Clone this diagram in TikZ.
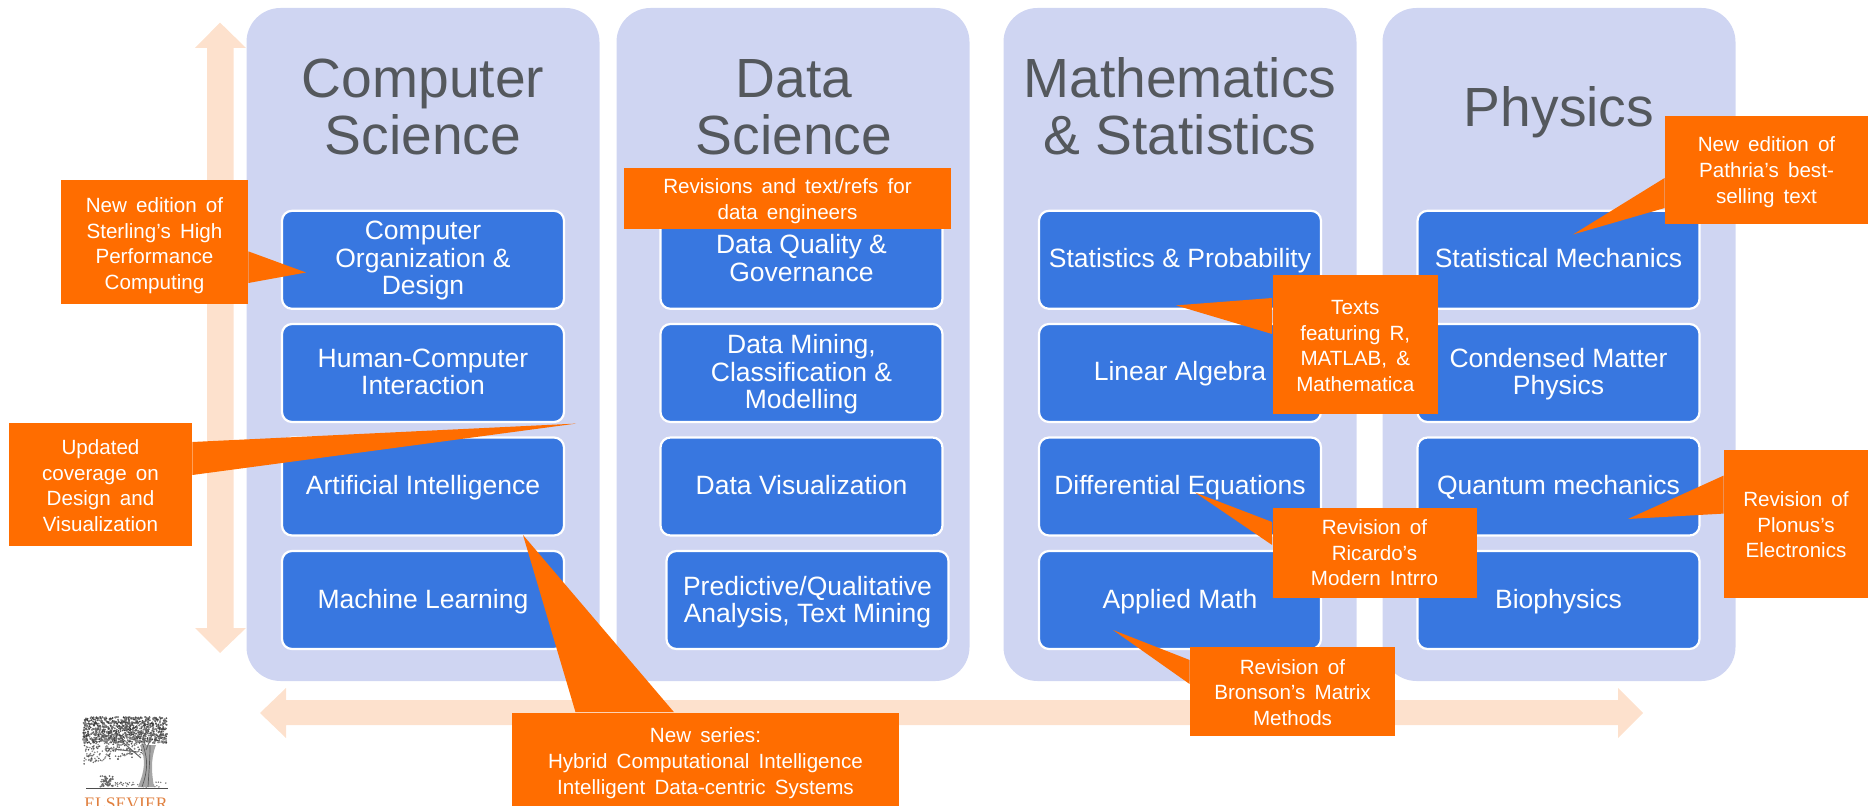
\documentclass[tikz,border=0pt]{standalone}
\usepackage{fontspec}
\setmainfont{Liberation Sans}
\newfontfamily\callfont[WordSpace=1.6]{Liberation Sans}
\newfontfamily\logofont{Liberation Serif}
\definecolor{colbg}{HTML}{CFD5F2}
\definecolor{boxbg}{HTML}{3877E0}
\definecolor{callc}{HTML}{FF6D00}
\definecolor{arrowc}{HTML}{FDE1CD}
\definecolor{titlec}{HTML}{54585D}
\definecolor{logoc}{HTML}{E0803F}
\tikzset{
  bl/.style={text height=#1pt,text depth=0pt},
  colpanel/.style={fill=colbg,rounded corners=17pt,minimum width=176.5pt,minimum height=336.5pt,inner sep=0pt},
  coltitle/.style={text=titlec,align=center,inner sep=0pt,font=\fontsize{27.6}{28.65}\selectfont},
  topic/.style={fill=boxbg,draw=white,line width=1.1pt,rounded corners=5pt,minimum width=141pt,minimum height=49pt,inner sep=0pt,text=white,align=center,font=\fontsize{13.25}{13.75}\selectfont},
  callout/.style={fill=callc,text=white,align=center,inner sep=0pt,font=\callfont\fontsize{10.3}{12.85}\selectfont},
  pointer/.style={fill=callc},
  bgarrow/.style={fill=arrowc},
}
\begin{document}
\begin{tikzpicture}[x=0.5pt,y=-0.5pt]
\useasboundingbox (0,0) rectangle (1868,806);
% background arrows
\fill[bgarrow] (220,22.6) -- (246,48) -- (233.5,48) -- (233.5,628) -- (246,628) -- (220,653) -- (195,628) -- (207,628) -- (207,48) -- (195,48) -- cycle;
\fill[bgarrow] (260,713) -- (286,688) -- (286,700) -- (1618,700) -- (1618,688) -- (1643,713) -- (1618,738) -- (1618,725) -- (286,725) -- (286,738) -- cycle;
% panels
\node[colpanel] (c1) at (423,344.5) {};
\node[colpanel] (c2) at (793,344.5) {};
\node[colpanel] (c3) at (1180,344.5) {};
\node[colpanel] (c4) at (1559,344.5) {};
% titles
\node[coltitle,bl=39] (t1) at (423,116) {Computer\\Science};
\node[coltitle,bl=39] (t2) at (794,116) {Data\\Science};
\node[coltitle,bl=39] (t3) at (1180,116) {Mathematics\\\& Statistics};
\node[coltitle,bl=20.5] (t4) at (1559,106) {Physics};
% topic boxes
\node[topic,bl=34.8] (a1) at (423,259.8) {Computer\\Organization \&\\Design};
\node[topic,bl=22] (a2) at (423,373) {Human-Computer\\Interaction};
\node[topic,bl=8.1] (a3) at (423,486.5) {Artificial Intelligence};
\node[topic,bl=9] (a4) at (423,600) {Machine Learning};
\node[topic,bl=21.5] (b1) at (801.5,259.8) {Data Quality \&\\Governance};
\node[topic,bl=35.7] (b2) at (801.5,373) {Data Mining,\\Classification \&\\Modelling};
\node[topic,bl=8.1] (b3) at (801.5,486.5) {Data Visualization};
\node[topic,bl=22.6] (b4) at (807.5,600) {Predictive/Qualitative\\Analysis, Text Mining};
\node[topic,bl=7.6] (m1) at (1180,259.8) {Statistics \& Probability};
\node[topic,bl=8] (m2) at (1180,373) {Linear Algebra};
\node[topic,bl=8.1] (m3) at (1180,486.5) {Differential Equations};
\node[topic,bl=9] (m4) at (1180,600) {Applied Math};
\node[topic,bl=7.6] (p1) at (1558.5,259.8) {Statistical Mechanics};
\node[topic,bl=22] (p2) at (1558.5,373) {Condensed Matter\\Physics};
\node[topic,bl=8.1] (p3) at (1558.5,486.5) {Quantum mechanics};
\node[topic,bl=9] (p4) at (1558.5,600) {Biophysics};
% logo
\begin{scope}
\clip (60,700) rectangle (200,806);
\pgfmathsetseed{11}
\foreach \i in {1,...,900}{
  \pgfmathsetmacro{\xx}{83+84*rnd}
  \pgfmathsetmacro{\yy}{717+26*rnd}
  \pgfmathsetmacro{\gg}{45+35*rnd}
  \fill[black!\gg] (\xx,\yy) circle[radius=0.5pt];
}
\foreach \i in {1,...,260}{
  \pgfmathsetmacro{\xx}{84+62*rnd}
  \pgfmathsetmacro{\yy}{738+26*rnd-(\xx-84)*0.14}
  \pgfmathsetmacro{\gg}{40+35*rnd}
  \fill[black!\gg] (\xx,\yy) circle[radius=0.45pt];
}
\foreach \i in {1,...,70}{
  \pgfmathsetmacro{\xx}{100+13*rnd}
  \pgfmathsetmacro{\yy}{776+11*rnd}
  \fill[black!60] (\xx,\yy) circle[radius=0.45pt];
}
\foreach \i in {1,...,50}{
  \pgfmathsetmacro{\xx}{115+52*rnd}
  \pgfmathsetmacro{\yy}{782+5*rnd}
  \fill[black!55] (\xx,\yy) circle[radius=0.4pt];
}
\fill[black!35] (138,787) .. controls (145,770) and (146,760) .. (140,745) -- (156,745) .. controls (150,760) and (152,775) .. (154,787) -- cycle;
\draw[black!65,line width=0.35pt] (142,787) .. controls (148,770) and (148,760) .. (143,745) (148,787) .. controls (149,770) and (150,760) .. (150,745);
\draw[black!60,line width=0.5pt] (141,758) -- (118,738) (146,750) -- (152,735) (138,752) -- (105,748);
\draw[black!70,line width=0.8pt] (86,788.5) -- (168,788.5);
\node[text=logoc,inner sep=0pt,anchor=base,font=\logofont\fontsize{8.8}{9}\selectfont] (logo) at (126,809) {ELSEVIER};
\end{scope}
% callouts
\node[callout,bl=47.5,minimum width=93.5pt,minimum height=61.75pt] (A) at (154.5,242.2) {New edition of\\Sterling’s High\\Performance\\Computing};
\coordinate (tipA) at (306,272.5);
\fill[pointer] (A.east |- 0,251.4) -- (tipA) -- (A.east |- 0,283) -- cycle;
\node[callout,bl=47.3,minimum width=91.5pt,minimum height=61.7pt] (B) at (100.5,484.3) {Updated\\coverage on\\Design and\\Visualization};
\coordinate (tipB) at (576,423.6);
\fill[pointer] (B.east |- 0,442) -- (tipB) -- (B.east |- 0,475) -- cycle;
\node[callout,bl=35,minimum width=193.5pt,minimum height=46.7pt] (C) at (705.5,759.3) {New series:\\Hybrid Computational Intelligence\\Intelligent Data-centric Systems};
\coordinate (tipC) at (523,535);
\fill[pointer] (C.north -| 575.5,0) -- (tipC) -- (C.north -| 674,0) -- cycle;
\node[callout,bl=21,minimum width=163.5pt,minimum height=30.5pt] (D) at (787.5,198.5) {Revisions and text/refs for\\data engineers};
\node[callout,bl=47,minimum width=82.75pt,minimum height=69.7pt] (E) at (1355.25,344.7) {Texts\\featuring R,\\MATLAB, \&\\Mathematica};
\coordinate (tipE) at (1176,305.4);
\fill[pointer] (E.west |- 0,298) -- (tipE) -- (E.west |- 0,334) -- cycle;
\node[callout,bl=33,minimum width=102pt,minimum height=45pt] (F) at (1374.5,553) {Revision of\\Ricardo’s\\Modern Intrro};
\coordinate (tipF) at (1195,492.5);
\fill[pointer] (F.west |- 0,522) -- (tipF) -- (F.west |- 0,545) -- cycle;
\node[callout,bl=34,minimum width=102.5pt,minimum height=44.5pt] (G) at (1292.5,691.5) {Revision of\\Bronson’s Matrix\\Methods};
\coordinate (tipG) at (1113,630);
\fill[pointer] (G.west |- 0,660) -- (tipG) -- (G.west |- 0,684) -- cycle;
\node[callout,bl=33.5,minimum width=101.5pt,minimum height=54pt] (H) at (1766.5,169.7) {New edition of\\Pathria’s best-\\selling text};
\coordinate (tipH) at (1573,234.5);
\fill[pointer] (H.west |- 0,178) -- (tipH) -- (H.west |- 0,208) -- cycle;
\node[callout,bl=34,minimum width=72pt,minimum height=74pt] (I) at (1796,524) {Revision of\\Plonus’s\\Electronics};
\coordinate (tipI) at (1628,519);
\fill[pointer] (I.west |- 0,475.6) -- (tipI) -- (I.west |- 0,513.6) -- cycle;
\end{tikzpicture}
\end{document}
